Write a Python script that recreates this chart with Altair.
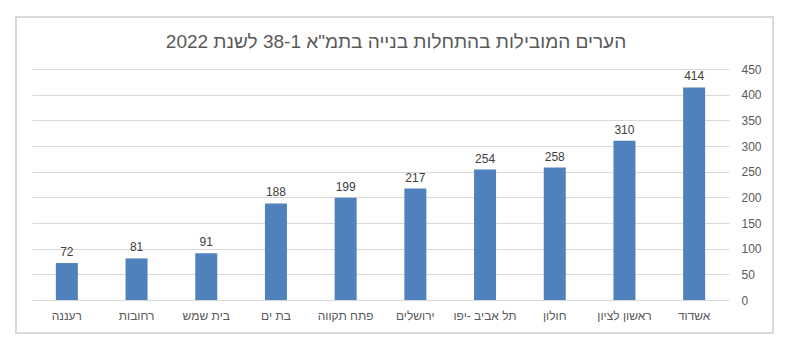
import altair as alt
import pandas as pd

cities = ["רעננה", "רחובות", "בית שמש", "בת ים", "פתח תקווה", "ירושלים",
          "תל אביב -יפו", "חולון", "ראשון לציון", "אשדוד"]
values = [72, 81, 91, 188, 199, 217, 254, 258, 310, 414]
y_ticks = [0, 50, 100, 150, 200, 250, 300, 350, 400, 450]
title_text = 'הערים המובילות בהתחלות בנייה בתמ"א 38-1 לשנת 2022'

df = pd.DataFrame({"city": cities, "value": values})

FONT = "Liberation Sans"
GREY = "#595959"

x_enc = alt.X("city:N", sort=None,
              axis=alt.Axis(title=None, labelAngle=0, domain=False, ticks=False,
                            labelPadding=10, labelFontSize=12, labelColor=GREY,
                            labelFont=FONT, grid=False))
y_enc = alt.Y("value:Q",
              scale=alt.Scale(domain=[0, 450], nice=False),
              axis=alt.Axis(title=None, orient="right", values=y_ticks, domain=False,
                            ticks=False, gridColor="#d9d9d9", gridWidth=1,
                            labelColor=GREY, labelFontSize=12, labelFont=FONT,
                            labelAlign="left", labelPadding=12, labelOverlap=False))

bars = alt.Chart(df).mark_bar(color="#4f81bd", size=22).encode(x=x_enc, y=y_enc)
labels = alt.Chart(df).mark_text(fontSize=12, color="#404040", font=FONT,
                                 baseline="alphabetic", dy=-7).encode(
    x=x_enc, y=y_enc, text="value:Q")

one = pd.DataFrame({"a": [0]})
border = alt.Chart(one).mark_rect(
    fill=None, stroke="#d9d9d9", strokeWidth=2).encode(
    x=alt.value(-16), x2=alt.value(741), y=alt.value(-52), y2=alt.value(264))

title = alt.Chart(one).mark_text(
    text=title_text, fontSize=19, color=GREY, font=FONT, align="center",
    baseline="middle").encode(x=alt.value(364), y=alt.value(-27))

chart = alt.layer(bars, labels, border, title).properties(
    width=697, height=231,
    autosize=alt.AutoSizeParams(type="none"),
    padding={"left": 24, "top": 61, "right": 56, "bottom": 50},
).configure_view(stroke=None)

chart.save("out.html", embed_options={"renderer": "svg", "actions": False})
